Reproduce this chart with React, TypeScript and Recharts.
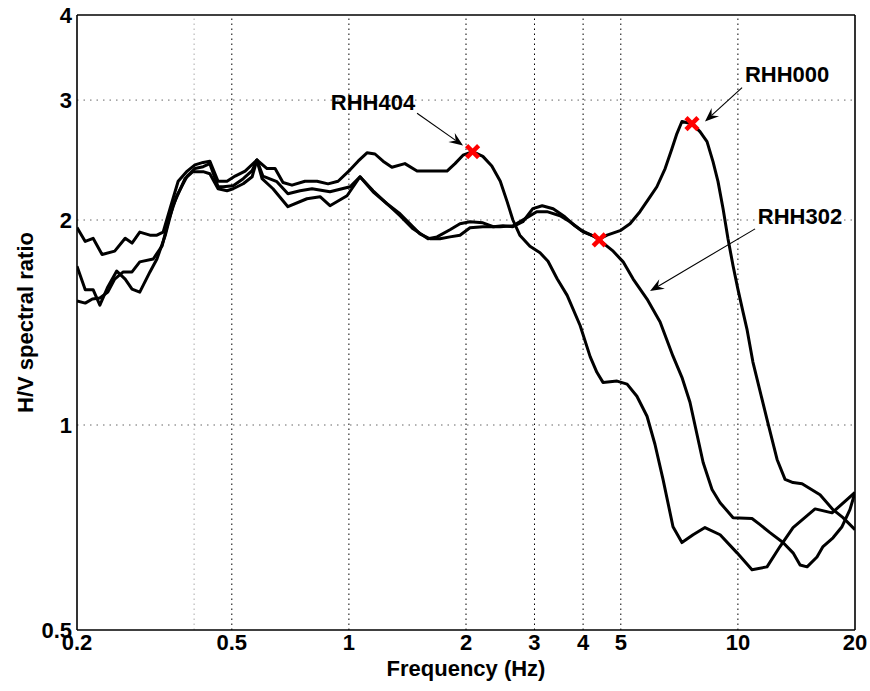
import {
  ComposedChart,
  Line,
  ReferenceDot,
  ReferenceLine,
  Scatter,
  XAxis,
  YAxis,
} from "recharts";

const FONT = '"Liberation Sans", Arial, Helvetica, sans-serif';

// axes (both log)
const xTicks = [0.2, 0.5, 1, 2, 3, 4, 5, 10, 20];
const yTicks = [0.5, 1, 2, 3, 4];
const xGrid = [0.5, 1, 2, 3, 4, 5, 10];
const xGridFaint = [0.4];
const yGrid = [1, 2, 3];

// H/V curves: frequency (Hz) and spectral ratio
const rhh404Freq = [
  0.2, 0.21, 0.22, 0.232, 0.25, 0.266, 0.277, 0.29, 0.308, 0.321, 0.333, 0.347, 0.364, 0.384, 0.402,
  0.422, 0.439, 0.461, 0.486, 0.51, 0.541, 0.58, 0.616, 0.646, 0.677, 0.714, 0.771, 0.828, 0.884,
  0.938, 1.007, 1.056, 1.113, 1.167, 1.224, 1.29, 1.393, 1.497, 1.685, 1.787, 1.874, 1.965, 2.08,
  2.21, 2.33, 2.45, 2.55, 2.64, 2.75, 2.92, 3.1, 3.25, 3.43, 3.64, 3.93, 4.17, 4.34, 4.5, 4.89, 5.19,
  5.5, 5.84, 6.12, 6.42, 6.81, 7.18, 7.67, 8.23, 9.0, 9.95, 10.87, 11.88, 12.83, 13.86, 15.79, 17.46,
  20,
];
const rhh404Ratio = [
  1.95, 1.86, 1.88, 1.78, 1.8, 1.88, 1.85, 1.92, 1.9, 1.9, 1.92, 2.08, 2.28, 2.36, 2.41, 2.43, 2.44,
  2.28, 2.28, 2.32, 2.36, 2.45, 2.38, 2.38, 2.27, 2.25, 2.28, 2.28, 2.26, 2.28, 2.37, 2.44, 2.51, 2.5,
  2.44, 2.39, 2.42, 2.36, 2.36, 2.36, 2.42, 2.49, 2.52, 2.48, 2.4, 2.28, 2.13, 2.0, 1.9, 1.83, 1.79,
  1.74, 1.64, 1.55, 1.4, 1.26, 1.195, 1.155, 1.16, 1.148, 1.102, 1.03, 0.937, 0.832, 0.709, 0.672,
  0.69, 0.707, 0.69, 0.649, 0.613, 0.619, 0.663, 0.707, 0.753, 0.743, 0.796,
];

const rhh302Freq = [
  0.2, 0.21, 0.22, 0.229, 0.24, 0.253, 0.266, 0.277, 0.29, 0.308, 0.321, 0.337, 0.353, 0.379, 0.397,
  0.422, 0.439, 0.461, 0.486, 0.504, 0.535, 0.564, 0.58, 0.601, 0.653, 0.697, 0.749, 0.804, 0.894,
  1.007, 1.068, 1.154, 1.253, 1.353, 1.41, 1.523, 1.616, 1.715, 1.819, 1.93, 2.048, 2.21, 2.45, 2.64,
  2.84, 3.04, 3.23, 3.49, 3.7, 3.97, 4.24, 4.4, 4.78, 5.07, 5.38, 5.84, 6.31, 6.81, 7.18, 7.53, 8.14,
  8.58, 9.0, 9.72, 10.87, 11.4, 12.09, 13.06, 13.86, 14.45, 15.06, 15.97, 16.55, 17.56, 18.52, 19.41,
  20,
];
const rhh302Ratio = [
  1.71, 1.58, 1.58, 1.5, 1.595, 1.683, 1.638, 1.583, 1.567, 1.678, 1.753, 1.896, 2.099, 2.3, 2.355,
  2.355, 2.339, 2.223, 2.208, 2.223, 2.261, 2.315, 2.45, 2.32, 2.277, 2.186, 2.208, 2.223, 2.2, 2.238,
  2.315, 2.2, 2.113, 2.043, 1.995, 1.908, 1.877, 1.877, 1.889, 1.9, 1.948, 1.955, 1.955, 1.961, 2.009,
  2.057, 2.057, 2.029, 1.988, 1.929, 1.896, 1.87, 1.8, 1.736, 1.638, 1.531, 1.417, 1.262, 1.175, 1.08,
  0.881, 0.804, 0.769, 0.731, 0.729, 0.714, 0.695, 0.672, 0.649, 0.623, 0.619, 0.64, 0.663, 0.683,
  0.709, 0.751, 0.796,
];

const rhh000Freq = [
  0.2, 0.21, 0.219, 0.229, 0.24, 0.25, 0.263, 0.277, 0.29, 0.314, 0.331, 0.343, 0.361, 0.384, 0.402,
  0.422, 0.439, 0.461, 0.475, 0.504, 0.535, 0.564, 0.58, 0.598, 0.638, 0.697, 0.78, 0.843, 0.894,
  0.989, 1.068, 1.154, 1.253, 1.353, 1.462, 1.597, 1.685, 1.819, 1.93, 2.048, 2.21, 2.35, 2.49, 2.64,
  2.8, 2.97, 3.14, 3.35, 3.59, 3.81, 4.0, 4.24, 4.42, 4.61, 4.98, 5.28, 5.6, 5.95, 6.19, 6.5, 6.77,
  6.97, 7.18, 7.62, 7.99, 8.33, 8.63, 8.89, 9.16, 9.43, 9.72, 10.0, 10.31, 10.55, 10.93, 11.88, 12.61,
  13.22, 13.86, 14.62, 16.26, 17.56, 18.63, 20,
];
const rhh000Ratio = [
  1.521, 1.51, 1.531, 1.536, 1.567, 1.638, 1.678, 1.678, 1.736, 1.753, 1.833, 1.988, 2.171, 2.32, 2.38,
  2.395, 2.42, 2.238, 2.238, 2.246, 2.3, 2.363, 2.45, 2.3, 2.223, 2.092, 2.149, 2.164, 2.099, 2.171,
  2.315, 2.208, 2.113, 2.029, 1.941, 1.877, 1.889, 1.935, 1.975, 1.988, 1.981, 1.955, 1.961, 1.955,
  1.988, 2.078, 2.099, 2.078, 2.022, 1.961, 1.922, 1.896, 1.877, 1.9, 1.929, 1.975, 2.057, 2.164,
  2.238, 2.38, 2.546, 2.679, 2.79, 2.77, 2.697, 2.607, 2.436, 2.277, 2.078, 1.877, 1.712, 1.583,
  1.465, 1.383, 1.237, 1.019, 0.89, 0.832, 0.823, 0.82, 0.79, 0.751, 0.731, 0.702,
];

// picked peaks (red crosses)
const peakFreq = [2.08, 4.4, 7.62];
const peakRatio = [2.52, 1.87, 2.77];

// station labels and their arrows, in data units
const stationNames = ["RHH404", "RHH302", "RHH000"];
const stationLabelFreq = [1.153, 14.44, 13.38];
const stationLabelRatio = [2.985, 2.03, 3.28];
const arrowTailFreq = [1.497, 11.07, 10.25];
const arrowTailRatio = [2.87, 1.941, 3.13];
const arrowHeadFreq = [1.965, 5.945, 8.23];
const arrowHeadRatio = [2.572, 1.573, 2.79];

const toPoints = (freq: number[], ratio: number[]) => freq.map((f, i) => ({ f, v: ratio[i] }));

const curves = [
  toPoints(rhh404Freq, rhh404Ratio),
  toPoints(rhh302Freq, rhh302Ratio),
  toPoints(rhh000Freq, rhh000Ratio),
];
const peaks = toPoints(peakFreq, peakRatio);

const tickStyle = { fill: "#000", fontSize: 22, fontWeight: "bold", fontFamily: FONT };
const fmt = (v: number) => String(v);

function Cross({ cx, cy }: { cx?: number; cy?: number }) {
  if (cx == null || cy == null) return null;
  const s = 6;
  return (
    <g stroke="#ff0000" strokeWidth={4.5}>
      <line x1={cx - s} y1={cy - s} x2={cx + s} y2={cy + s} />
      <line x1={cx - s} y1={cy + s} x2={cx + s} y2={cy - s} />
    </g>
  );
}

function Arrow(props: any) {
  const { x1, y1, x2, y2 } = props;
  const a = Math.atan2(y2 - y1, x2 - x1);
  const at = (d: number, w: number) => [
    x2 - d * Math.cos(a) - w * Math.sin(a),
    y2 - d * Math.sin(a) + w * Math.cos(a),
  ];
  const [lx, ly] = at(14, 5.5);
  const [rx, ry] = at(14, -5.5);
  const [bx, by] = at(9, 0);
  return (
    <g>
      <line x1={x1} y1={y1} x2={bx} y2={by} stroke="#000" strokeWidth={1.1} />
      <polygon points={`${x2},${y2} ${lx},${ly} ${bx},${by} ${rx},${ry}`} fill="#000" />
    </g>
  );
}

export default function App() {
  return (
    <div style={{ position: "absolute", left: 0, top: 0, width: 870, height: 691, background: "#fff" }}>
      <ComposedChart width={870} height={691} margin={{ top: 15, right: 15, bottom: 0, left: 0 }}>
        <XAxis
          dataKey="f"
          type="number"
          scale="log"
          domain={[0.2, 20]}
          allowDataOverflow
          ticks={xTicks}
          interval={0}
          tickFormatter={fmt}
          tick={tickStyle}
          tickLine={false}
          tickSize={0}
          tickMargin={4}
          axisLine={{ stroke: "#000", strokeWidth: 1.6 }}
          height={61}
          label={{
            content: (p: any) => {
              const vb = p.viewBox ?? { x: 77, y: 630, width: 778, height: 61 };
              return (
                <text
                  x={vb.x + vb.width / 2}
                  y={vb.y + 46}
                  textAnchor="middle"
                  fill="#000"
                  fontSize={22}
                  fontWeight="bold"
                  fontFamily={FONT}
                >
                  Frequency (Hz)
                </text>
              );
            },
          }}
        />
        <XAxis
          xAxisId="innerBottom"
          type="number"
          scale="log"
          domain={[0.2, 20]}
          allowDataOverflow
          ticks={xTicks}
          interval={0}
          mirror
          tick={false}
          tickSize={7}
          tickLine={{ stroke: "#000", strokeWidth: 1.5 }}
          axisLine={false}
        />
        <XAxis
          xAxisId="innerTop"
          orientation="top"
          type="number"
          scale="log"
          domain={[0.2, 20]}
          allowDataOverflow
          ticks={xTicks}
          interval={0}
          mirror
          tick={false}
          tickSize={7}
          tickLine={{ stroke: "#000", strokeWidth: 1.5 }}
          axisLine={{ stroke: "#000", strokeWidth: 1.6 }}
        />
        <YAxis
          dataKey="v"
          type="number"
          scale="log"
          domain={[0.5, 4]}
          allowDataOverflow
          ticks={yTicks}
          interval={0}
          tickFormatter={fmt}
          tick={tickStyle}
          tickLine={false}
          tickSize={0}
          tickMargin={5}
          axisLine={{ stroke: "#000", strokeWidth: 1.6 }}
          width={77}
          label={{
            content: (p: any) => {
              const vb = p.viewBox ?? { x: 0, y: 15, width: 77, height: 615 };
              const cx = vb.x + 33;
              const cy = vb.y + vb.height / 2;
              return (
                <text
                  x={cx}
                  y={cy}
                  transform={`rotate(-90 ${cx} ${cy})`}
                  textAnchor="middle"
                  fill="#000"
                  fontSize={22}
                  fontWeight="bold"
                  fontFamily={FONT}
                >
                  H/V spectral ratio
                </text>
              );
            },
          }}
        />
        <YAxis
          yAxisId="innerLeft"
          type="number"
          scale="log"
          domain={[0.5, 4]}
          allowDataOverflow
          ticks={yTicks}
          interval={0}
          mirror
          tick={false}
          tickSize={7}
          tickLine={{ stroke: "#000", strokeWidth: 1.5 }}
          axisLine={false}
        />
        <YAxis
          yAxisId="innerRight"
          orientation="right"
          type="number"
          scale="log"
          domain={[0.5, 4]}
          allowDataOverflow
          ticks={yTicks}
          interval={0}
          mirror
          tick={false}
          tickSize={7}
          tickLine={{ stroke: "#000", strokeWidth: 1.5 }}
          axisLine={{ stroke: "#000", strokeWidth: 1.6 }}
        />

        {xGridFaint.map((x) => (
          <ReferenceLine key={`gf${x}`} x={x} stroke="#aaa" strokeWidth={1} strokeDasharray="1.5 3.5" />
        ))}
        {xGrid.map((x) => (
          <ReferenceLine key={`gx${x}`} x={x} stroke="#000" strokeWidth={1} strokeDasharray="1.5 3.5" />
        ))}
        {yGrid.map((y) => (
          <ReferenceLine key={`gy${y}`} y={y} stroke="#666" strokeWidth={1} strokeDasharray="1.5 5" />
        ))}

        {curves.map((pts, i) => (
          <Line
            key={stationNames[i]}
            data={pts}
            dataKey="v"
            type="linear"
            stroke="#000"
            strokeWidth={3}
            strokeLinejoin="round"
            dot={false}
            activeDot={false}
            isAnimationActive={false}
          />
        ))}

        <Scatter data={peaks} dataKey="v" shape={(p: any) => <Cross cx={p.cx} cy={p.cy} />} isAnimationActive={false} />

        {stationNames.map((name, i) => (
          <ReferenceLine
            key={`arrow${name}`}
            segment={[
              { x: arrowTailFreq[i], y: arrowTailRatio[i] },
              { x: arrowHeadFreq[i], y: arrowHeadRatio[i] },
            ]}
            shape={(p: any) => <Arrow {...p} />}
          />
        ))}
        {stationNames.map((name, i) => (
          <ReferenceDot
            key={`label${name}`}
            x={stationLabelFreq[i]}
            y={stationLabelRatio[i]}
            r={0}
            shape={(p: any) => (
              <text
                x={p.cx}
                y={p.cy + 8}
                textAnchor="middle"
                fill="#000"
                fontSize={22}
                fontWeight="bold"
                fontFamily={FONT}
              >
                {name}
              </text>
            )}
          />
        ))}
      </ComposedChart>
    </div>
  );
}
